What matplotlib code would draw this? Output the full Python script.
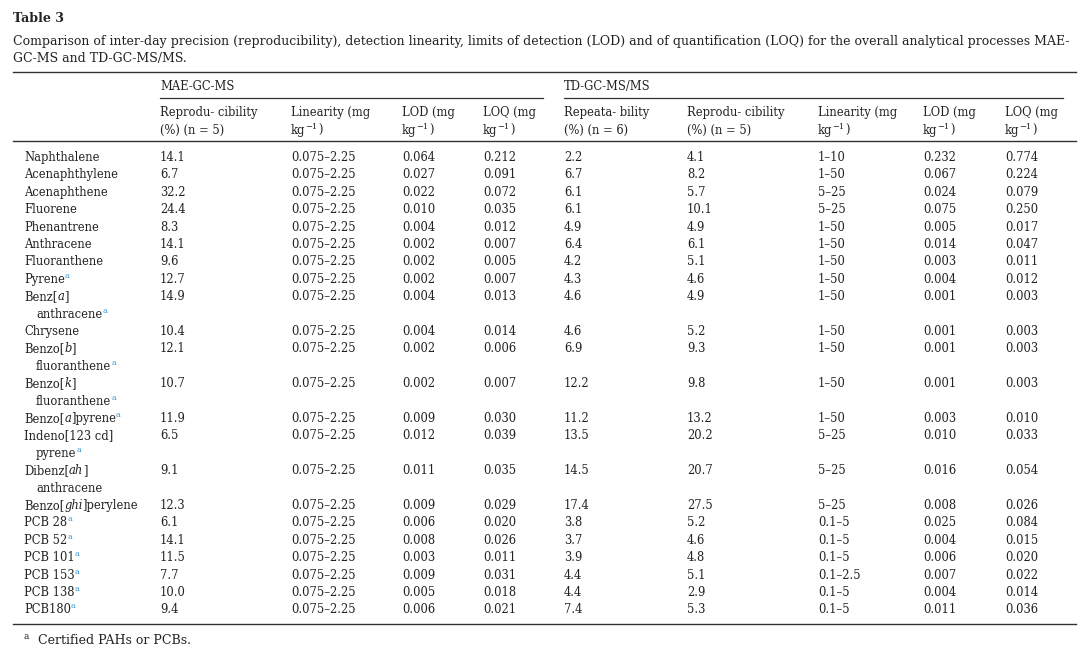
import matplotlib
matplotlib.use("Agg")
import matplotlib.pyplot as plt
from matplotlib.transforms import IdentityTransform

FONT = "DejaVu Serif"
SIZE = 8.3
CAP_SIZE = 9.0
BLUE = "#3d9ad6"
INK = "#222222"

W, H = 1080, 667

title = "Table 3"
caption = ["Comparison of inter-day precision (reproducibility), detection linearity, limits of detection (LOD) and of quantification (LOQ) for the overall analytical processes MAE-",
           "GC-MS and TD-GC-MS/MS."]

# names: *x* = italic, | = line break
names = ["Naphthalene", "Acenaphthylene", "Acenaphthene", "Fluorene", "Phenantrene",
         "Anthracene", "Fluoranthene", "Pyrene", "Benz[*a*]|anthracene", "Chrysene",
         "Benzo[*b*]|fluoranthene", "Benzo[*k*]|fluoranthene", "Benzo[*a*]pyrene",
         "Indeno[123 cd]|pyrene", "Dibenz[*ah*]|anthracene", "Benzo[*ghi*]perylene",
         "PCB 28", "PCB 52", "PCB 101", "PCB 153", "PCB 138", "PCB180"]
certified = [0, 0, 0, 0, 0, 0, 0, 1, 1, 0, 1, 1, 1, 1, 0, 0, 1, 1, 1, 1, 1, 1]

mae_repro = ["14.1", "6.7", "32.2", "24.4", "8.3", "14.1", "9.6", "12.7", "14.9", "10.4", "12.1",
             "10.7", "11.9", "6.5", "9.1", "12.3", "6.1", "14.1", "11.5", "7.7", "10.0", "9.4"]
mae_lin = ["0.075–2.25"] * 22
mae_lod = ["0.064", "0.027", "0.022", "0.010", "0.004", "0.002", "0.002", "0.002", "0.004", "0.004", "0.002",
           "0.002", "0.009", "0.012", "0.011", "0.009", "0.006", "0.008", "0.003", "0.009", "0.005", "0.006"]
mae_loq = ["0.212", "0.091", "0.072", "0.035", "0.012", "0.007", "0.005", "0.007", "0.013", "0.014", "0.006",
           "0.007", "0.030", "0.039", "0.035", "0.029", "0.020", "0.026", "0.011", "0.031", "0.018", "0.021"]
td_repeat = ["2.2", "6.7", "6.1", "6.1", "4.9", "6.4", "4.2", "4.3", "4.6", "4.6", "6.9",
             "12.2", "11.2", "13.5", "14.5", "17.4", "3.8", "3.7", "3.9", "4.4", "4.4", "7.4"]
td_repro = ["4.1", "8.2", "5.7", "10.1", "4.9", "6.1", "5.1", "4.6", "4.9", "5.2", "9.3",
            "9.8", "13.2", "20.2", "20.7", "27.5", "5.2", "4.6", "4.8", "5.1", "2.9", "5.3"]
td_lin = ["1–10", "1–50", "5–25", "5–25", "1–50", "1–50", "1–50", "1–50", "1–50", "1–50", "1–50",
          "1–50", "1–50", "5–25", "5–25", "5–25", "0.1–5", "0.1–5", "0.1–5", "0.1–2.5", "0.1–5", "0.1–5"]
td_lod = ["0.232", "0.067", "0.024", "0.075", "0.005", "0.014", "0.003", "0.004", "0.001", "0.001", "0.001",
          "0.001", "0.003", "0.010", "0.016", "0.008", "0.025", "0.004", "0.006", "0.007", "0.004", "0.011"]
td_loq = ["0.774", "0.224", "0.079", "0.250", "0.017", "0.047", "0.011", "0.012", "0.003", "0.003", "0.003",
          "0.003", "0.010", "0.033", "0.054", "0.026", "0.084", "0.015", "0.020", "0.022", "0.014", "0.036"]

columns = [mae_repro, mae_lin, mae_lod, mae_loq, td_repeat, td_repro, td_lin, td_lod, td_loq]
col_x = [160, 291, 402, 483, 564, 687, 818, 923, 1005]
headers = [("Reprodu- cibility", "(%) (n = 5)"), ("Linearity (mg", "kg"), ("LOD (mg", "kg"),
           ("LOQ (mg", "kg"), ("Repeata- bility", "(%) (n = 6)"), ("Reprodu- cibility", "(%) (n = 5)"),
           ("Linearity (mg", "kg"), ("LOD (mg", "kg"), ("LOQ (mg", "kg")]

fig = plt.figure(figsize=(W / 100, H / 100), dpi=100)
fig.patch.set_facecolor("white")
renderer = fig.canvas.get_renderer()
T = IdentityTransform()


def put(x, y, segs, size=SIZE):
    # segs: list of (text, kind); kind: n normal, i italic, b bold, s superscript, a blue superscript
    for s, kind in segs:
        kw = dict(fontsize=size, family=FONT, color=INK, va="baseline", ha="left", transform=T)
        yy = H - y
        if kind == "i":
            kw["style"] = "italic"
        if kind == "b":
            kw["weight"] = "bold"
        if kind in ("s", "a"):
            kw["fontsize"] = size * 0.72
            yy += size * 0.6
        if kind == "a":
            kw["color"] = BLUE
        t = fig.text(x, yy, s, **kw)
        x = t.get_window_extent(renderer).x1 + (0.5 if kind in ("s", "a") else 0)
    return x


def hline(y, x0, x1, lw=1.0):
    fig.add_artist(plt.Line2D([x0, x1], [H - y, H - y], transform=T, color="#333333", lw=lw))


def name_segs(line):
    parts = line.split("*")
    return [(p, "i" if k % 2 else "n") for k, p in enumerate(parts) if p]


put(13, 22, [(title, "b")], size=9.1)
put(13, 45, [(caption[0], "n")], size=CAP_SIZE)
put(13, 62, [(caption[1], "n")], size=CAP_SIZE)
hline(72, 13, 1076)

put(160, 90, [("MAE-GC-MS", "n")])
put(564, 90, [("TD-GC-MS/MS", "n")])
hline(98, 160, 543, 0.9)
hline(98, 564, 1063, 0.9)

for x, (h1, h2) in zip(col_x, headers):
    put(x, 116, [(h1, "n")])
    if h2 == "kg":
        put(x, 134, [("kg", "n"), ("−1", "s"), (")", "n")])
    else:
        put(x, 134, [(h2, "n")])
hline(141, 13, 1076)

step = 17.4
y = 161
for i, nm in enumerate(names):
    lines = nm.split("|")
    for k, ln in enumerate(lines):
        segs = name_segs(ln)
        if k == len(lines) - 1 and certified[i]:
            segs.append(("a", "a"))
        put(24 if k == 0 else 36, y + k * step, segs)
    for x, col in zip(col_x, columns):
        put(x, y, [(col[i], "n")])
    y += step * len(lines)

hline(624, 13, 1076)
put(24, 644, [("a", "s"), ("  Certified PAHs or PCBs.", "n")], size=CAP_SIZE)

fig.savefig("out.png", dpi=100, facecolor="white")
